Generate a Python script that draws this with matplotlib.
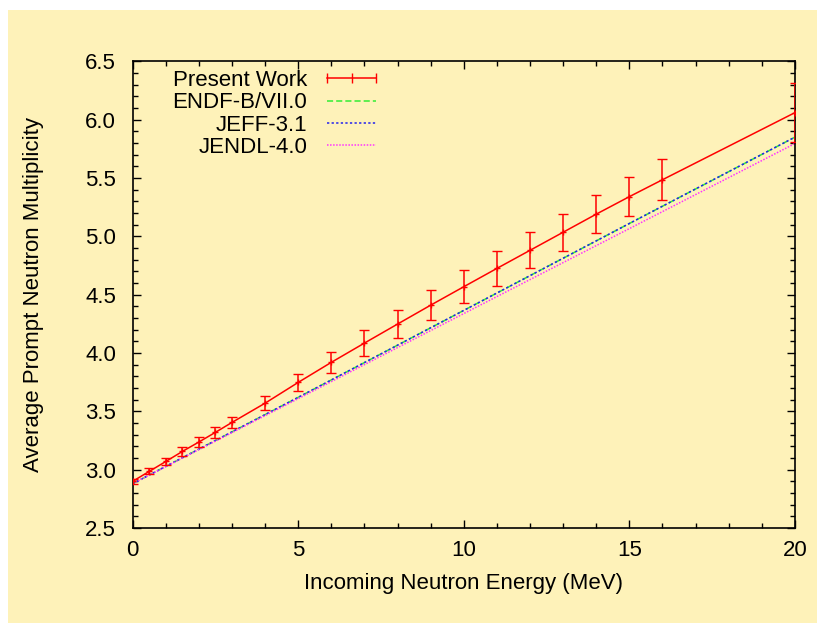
import matplotlib.pyplot as plt
from matplotlib.lines import Line2D
from matplotlib.patches import Rectangle
from matplotlib.ticker import MultipleLocator

plt.rcParams['font.family'] = ['Liberation Sans', 'DejaVu Sans']

# Data
energy = [0, 0.5, 1, 1.5, 2, 2.5, 3, 4, 5, 6, 7, 8, 9, 10, 11, 12, 13, 14, 15, 16, 20]
nubar = [2.90, 2.985, 3.07, 3.156, 3.237, 3.32, 3.405, 3.57, 3.748, 3.92, 4.085,
         4.248, 4.41, 4.568, 4.725, 4.88, 5.035, 5.19, 5.34, 5.485, 6.06]
nubar_err = [0.02, 0.025, 0.03, 0.035, 0.04, 0.045, 0.05, 0.06, 0.075, 0.09, 0.11,
             0.12, 0.13, 0.14, 0.147, 0.155, 0.16, 0.165, 0.17, 0.177, 0.25]

eval_energy = [0, 5, 10, 15, 20]
endf = [2.88, 3.62, 4.365, 5.11, 5.85]
jeff = [2.88, 3.62, 4.365, 5.11, 5.85]
jendl = [2.88, 3.609, 4.338, 5.066, 5.795]

fig = plt.figure(figsize=(8.17, 6.23), dpi=100)
fig.patches.append(Rectangle((8 / 817, 0), 1, 613 / 623, transform=fig.transFigure,
                             facecolor='#fef2b9', edgecolor='none', zorder=-10))
ax = fig.add_axes([0.1624, 0.1525, 0.8106, 0.7491])
ax.set_facecolor('#fef2b9')

ax.errorbar(energy, nubar, yerr=nubar_err, color='#ff0000', lw=1.1, marker='+',
            ms=5, capsize=3.5, elinewidth=1.1, zorder=5)
ax.plot(eval_energy, endf, color='#33ee33', lw=1.1, ls=(0, (4, 2)))
ax.plot(eval_energy, jeff, color='#2222ee', lw=1.1, ls=(0, (1.5, 1.5)))
ax.plot(eval_energy, jendl, color='#ff33ff', lw=1.1, ls=(0, (1, 1)))

ax.set_xlim(0, 20)
ax.set_ylim(2.5, 6.5)
ax.xaxis.set_major_locator(MultipleLocator(5))
ax.xaxis.set_minor_locator(MultipleLocator(1))
ax.yaxis.set_major_locator(MultipleLocator(0.5))
ax.yaxis.set_minor_locator(MultipleLocator(0.1))
ax.yaxis.set_major_formatter(lambda v, p: f'{v:.1f}')
ax.tick_params(which='both', direction='in', top=True, right=True, labelsize=16, width=1)
ax.tick_params(which='major', length=6)
ax.tick_params(axis='y', which='major', pad=12)
ax.tick_params(axis='x', which='major', pad=9)
ax.tick_params(which='minor', length=3.5)
for s in ax.spines.values():
    s.set_linewidth(1.2)

ax.set_xlabel('Incoming Neutron Energy (MeV)', fontsize=16, va='center')
ax.set_ylabel('Average Prompt Neutron Multiplicity', fontsize=16, va='center')
ax.xaxis.set_label_coords(0.5, -0.118)
ax.yaxis.set_label_coords(-0.15, 0.5)

handles = [
    Line2D([], [], color='#ff0000', lw=1.1, marker='|', ms=7),
    Line2D([], [], color='#33ee33', lw=1.1, ls=(0, (4, 2))),
    Line2D([], [], color='#2222ee', lw=1.1, ls=(0, (1.5, 1.5))),
    Line2D([], [], color='#ff33ff', lw=1.1, ls=(0, (1, 1))),
]
labels = ['Present Work', 'ENDF-B/VII.0', 'JEFF-3.1', 'JENDL-4.0']
leg = ax.legend(handles, labels, loc='upper left', bbox_to_anchor=(0.03, 1.024),
                frameon=False, markerfirst=False, numpoints=3, fontsize=16,
                handlelength=2.8, handletextpad=0.6, labelspacing=0.06,
                alignment='right')
for t in leg.get_texts():
    t.set_ha('right')
leg._legend_box.align = 'right'

fig.savefig('out.png', dpi=100)
